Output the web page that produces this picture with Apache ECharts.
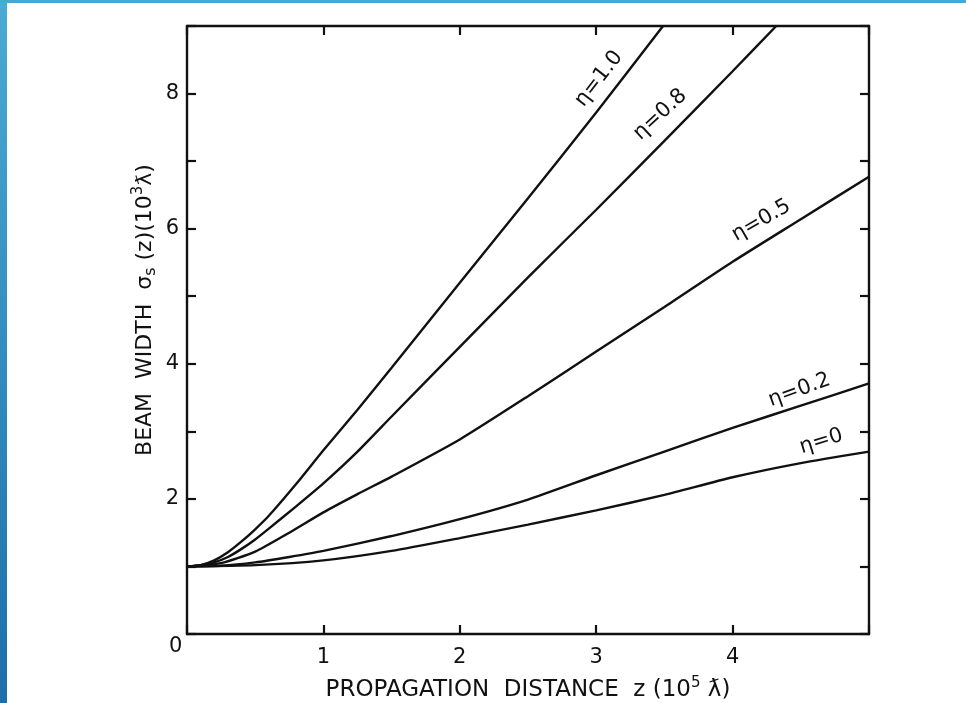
<!DOCTYPE html>
<html>
<head>
<meta charset="utf-8">
<title>Beam width vs propagation distance</title>
<script src="https://cdn.jsdelivr.net/npm/echarts@6/dist/echarts.min.js"></script>
<style>
  html, body { margin: 0; padding: 0; background: #ffffff; }
  #chart { width: 966px; height: 703px; }
</style>
</head>
<body>
<div id="chart"></div>
<script>
// Propagation distance z (units of 10^5 reduced wavelengths) and beam width (10^3) per η
const zEta10 = [0, 0.1, 0.2, 0.3, 0.4, 0.5, 0.6, 0.8, 1.0, 1.25, 1.5, 2.0, 2.5, 3.0, 3.49];
const wEta10 = [1.0, 1.02, 1.09, 1.21, 1.37, 1.55, 1.75, 2.22, 2.72, 3.32, 3.94, 5.20, 6.45, 7.72, 9.0];

const zEta08 = [0, 0.1, 0.2, 0.3, 0.4, 0.5, 0.6, 0.8, 1.0, 1.25, 1.5, 2.0, 2.5, 3.0, 3.5, 4.0, 4.32];
const wEta08 = [1.0, 1.02, 1.06, 1.14, 1.26, 1.40, 1.56, 1.89, 2.23, 2.70, 3.22, 4.25, 5.28, 6.28, 7.30, 8.33, 9.0];

const zEta05 = [0, 0.25, 0.5, 0.75, 1.0, 1.25, 1.5, 2.0, 2.5, 3.0, 3.5, 4.0, 4.5, 5.0];
const wEta05 = [1.0, 1.05, 1.22, 1.50, 1.80, 2.07, 2.33, 2.88, 3.52, 4.18, 4.84, 5.51, 6.14, 6.77];

const zEta02 = [0, 0.25, 0.5, 0.75, 1.0, 1.5, 2.0, 2.5, 3.0, 3.5, 4.0, 4.5, 5.0];
const wEta02 = [1.0, 1.01, 1.06, 1.14, 1.23, 1.45, 1.70, 1.99, 2.35, 2.70, 3.05, 3.38, 3.71];

const zEta00 = [0, 0.5, 1.0, 1.5, 2.0, 2.5, 3.0, 3.5, 4.0, 4.5, 5.0];
const wEta00 = [1.0, 1.02, 1.09, 1.23, 1.42, 1.62, 1.83, 2.06, 2.32, 2.53, 2.70];

const curveNames = ['η=1.0', 'η=0.8', 'η=0.5', 'η=0.2', 'η=0'];
const xTickLabels = ['1', '2', '3', '4'];
const yTickLabels = ['2', '4', '6', '8'];

const FONT = 'DejaVu Sans';
const INK = '#111111';

function pairs(zs, ws) { return zs.map((z, i) => [z, ws[i]]); }

// Curve label placement: [z, width, rotation]
const labelPlacement = [
  [3.02, 8.22, 52],
  [3.47, 7.69, 43],
  [4.21, 6.12, 30],
  [4.49, 3.61, 20],
  [4.65, 2.85, 17]
];

const curveData = [
  pairs(zEta10, wEta10),
  pairs(zEta08, wEta08),
  pairs(zEta05, wEta05),
  pairs(zEta02, wEta02),
  pairs(zEta00, wEta00)
];

const series = curveData.map((d, i) => ({
  name: curveNames[i],
  type: 'line',
  data: d,
  smooth: 0.2,
  showSymbol: false,
  symbol: 'none',
  lineStyle: { color: INK, width: 2.4 },
  silent: true,
  markPoint: {
    symbol: 'circle',
    symbolSize: 0,
    silent: true,
    data: [{
      coord: [labelPlacement[i][0], labelPlacement[i][1]],
      label: {
        show: true,
        formatter: curveNames[i],
        position: 'inside',
        rotate: labelPlacement[i][2],
        color: INK,
        fontFamily: FONT,
        fontSize: 21
      }
    }]
  }
}));

const tickStyle = { show: true, inside: true, length: 9, lineStyle: { color: INK, width: 2.2 } };
const frameLine = { show: true, onZero: false, lineStyle: { color: INK, width: 2.4 } };

const option = {
  backgroundColor: '#ffffff',
  animation: false,
  grid: { left: 187, right: 97, top: 26, bottom: 69, outerBoundsMode: 'none', containLabel: false },
  xAxis: [
    {
      type: 'value', min: 0, max: 5, interval: 1, position: 'bottom',
      axisLine: frameLine, axisTick: tickStyle, splitLine: { show: false },
      axisLabel: {
        color: INK, fontFamily: FONT, fontSize: 21, margin: 13,
        formatter: v => xTickLabels.includes(String(v)) ? String(v) : ''
      },
      name: 'PROPAGATION  DISTANCE  z (10{sup|5} ƛ)',
      nameLocation: 'middle', nameGap: 42,
      nameTextStyle: {
        color: INK, fontFamily: FONT, fontSize: 23, lineHeight: 28,
        rich: { sup: { fontFamily: FONT, fontSize: 15, verticalAlign: 'top', color: INK } }
      }
    },
    {
      type: 'value', min: 0, max: 5, interval: 1, position: 'top',
      axisLine: frameLine, axisTick: tickStyle, splitLine: { show: false },
      axisLabel: { show: false }
    }
  ],
  yAxis: [
    {
      type: 'value', min: 0, max: 9, interval: 1, position: 'left',
      axisLine: frameLine, axisTick: tickStyle, splitLine: { show: false },
      axisLabel: {
        color: INK, fontFamily: FONT, fontSize: 21, margin: 8,
        formatter: v => yTickLabels.includes(String(v)) ? String(v) : ''
      },
      name: 'BEAM  WIDTH  σ{sub|s} (z)(10{sup|3}ƛ)',
      nameLocation: 'middle', nameGap: 28, nameMoveOverlap: false,
      nameTextStyle: {
        color: INK, fontFamily: FONT, fontSize: 22, lineHeight: 28,
        padding: [0, 0, 0, 40],
        rich: {
          sub: { fontFamily: FONT, fontSize: 16, verticalAlign: 'bottom', color: INK },
          sup: { fontFamily: FONT, fontSize: 15, verticalAlign: 'top', color: INK }
        }
      }
    },
    {
      type: 'value', min: 0, max: 9, interval: 1, position: 'right',
      axisLine: frameLine, axisTick: tickStyle, splitLine: { show: false },
      axisLabel: { show: false }
    }
  ],
  graphic: [
    {
      type: 'rect', left: 0, top: 0, z: 10,
      shape: { width: 7, height: 703 },
      style: {
        fill: {
          type: 'linear', x: 0, y: 0, x2: 0, y2: 1,
          colorStops: [{ offset: 0, color: '#4aabd3' }, { offset: 1, color: '#1e6ea8' }]
        }
      }
    },
    {
      type: 'rect', left: 0, top: 0, z: 10,
      shape: { width: 966, height: 3 },
      style: { fill: '#45a9d2' }
    },
    {
      type: 'text', left: 169, top: 636,
      style: { text: '0', fill: INK, font: '21px "DejaVu Sans"' }
    }
  ],
  series: series
};

const chart = echarts.init(document.getElementById('chart'), null, { renderer: 'canvas' });
chart.setOption(option);
</script>
</body>
</html>
